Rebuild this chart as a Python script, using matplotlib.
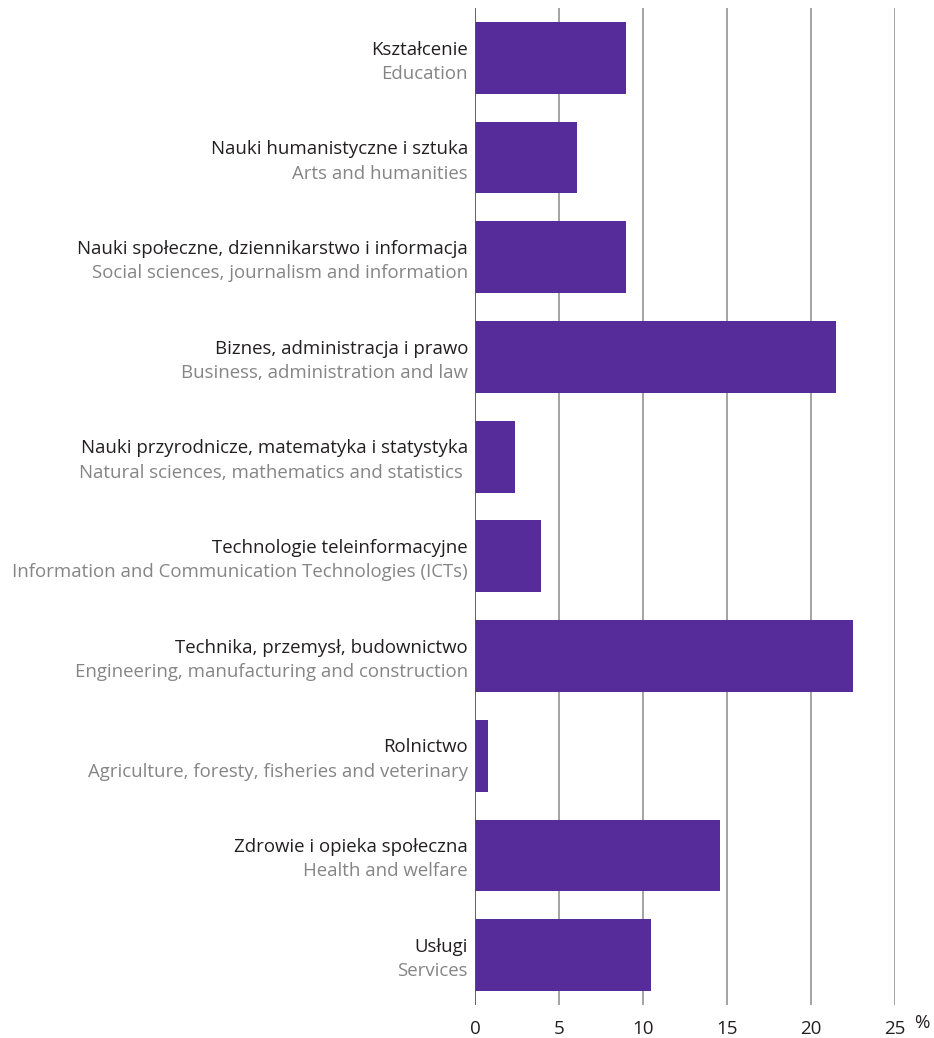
import matplotlib.pyplot as plt

plt.rcParams['font.family'] = ['Open Sans', 'DejaVu Sans']

labels_pl = [
    'Kształcenie',
    'Nauki humanistyczne i sztuka',
    'Nauki społeczne, dziennikarstwo i informacja',
    'Biznes, administracja i prawo',
    'Nauki przyrodnicze, matematyka i statystyka',
    'Technologie teleinformacyjne',
    'Technika, przemysł, budownictwo',
    'Rolnictwo',
    'Zdrowie i opieka społeczna',
    'Usługi',
]
labels_en = [
    'Education',
    'Arts and humanities',
    'Social sciences, journalism and information',
    'Business, administration and law',
    'Natural sciences, mathematics and statistics ',
    'Information and Communication Technologies (ICTs)',
    'Engineering, manufacturing and construction',
    'Agriculture, foresty, fisheries and veterinary',
    'Health and welfare',
    'Services',
]
values = [9.0, 6.1, 9.0, 21.5, 2.4, 3.9, 22.5, 0.8, 14.6, 10.5]
xticks = [0, 5, 10, 15, 20, 25]

W, H = 934, 1038
fig = plt.figure(figsize=(W / 100, H / 100), dpi=100)
ax = fig.add_axes([475 / W, 1 - 1005 / H, 420 / W, 997 / H])

pos = list(range(len(values)))
ax.barh(pos, values, height=0.72, color='#552c9a', zorder=3)

ax.set_xlim(0, 25)
ax.set_ylim(9.5, -0.5)
for x in xticks[1:]:
    ax.axvline(x, color='#8a8a8a', lw=1.1, zorder=1)
ax.axvline(0, color='#555555', lw=1.3, zorder=4)

for s in ax.spines.values():
    s.set_visible(False)
ax.set_yticks([])
ax.set_xticks(xticks)
ax.set_xticklabels([str(t) for t in xticks])
ax.tick_params(axis='x', length=0, pad=11, labelsize=13.5, labelcolor='#231f20')

for i, (pl, en) in enumerate(zip(labels_pl, labels_en)):
    ax.annotate(pl, xy=(0, i), xycoords=('axes fraction', 'data'),
                xytext=(-5, 6), textcoords='offset points',
                ha='right', va='center', fontsize=13.4, color='#231f20')
    ax.annotate(en, xy=(0, i), xycoords=('axes fraction', 'data'),
                xytext=(-5, -11.5), textcoords='offset points',
                ha='right', va='center', fontsize=13.4, color='#858585')

fig.text(922 / W, 1 - 1023 / H, '%', ha='center', va='center',
         fontsize=13.5, color='#231f20')

fig.savefig('out.png', dpi=100)
